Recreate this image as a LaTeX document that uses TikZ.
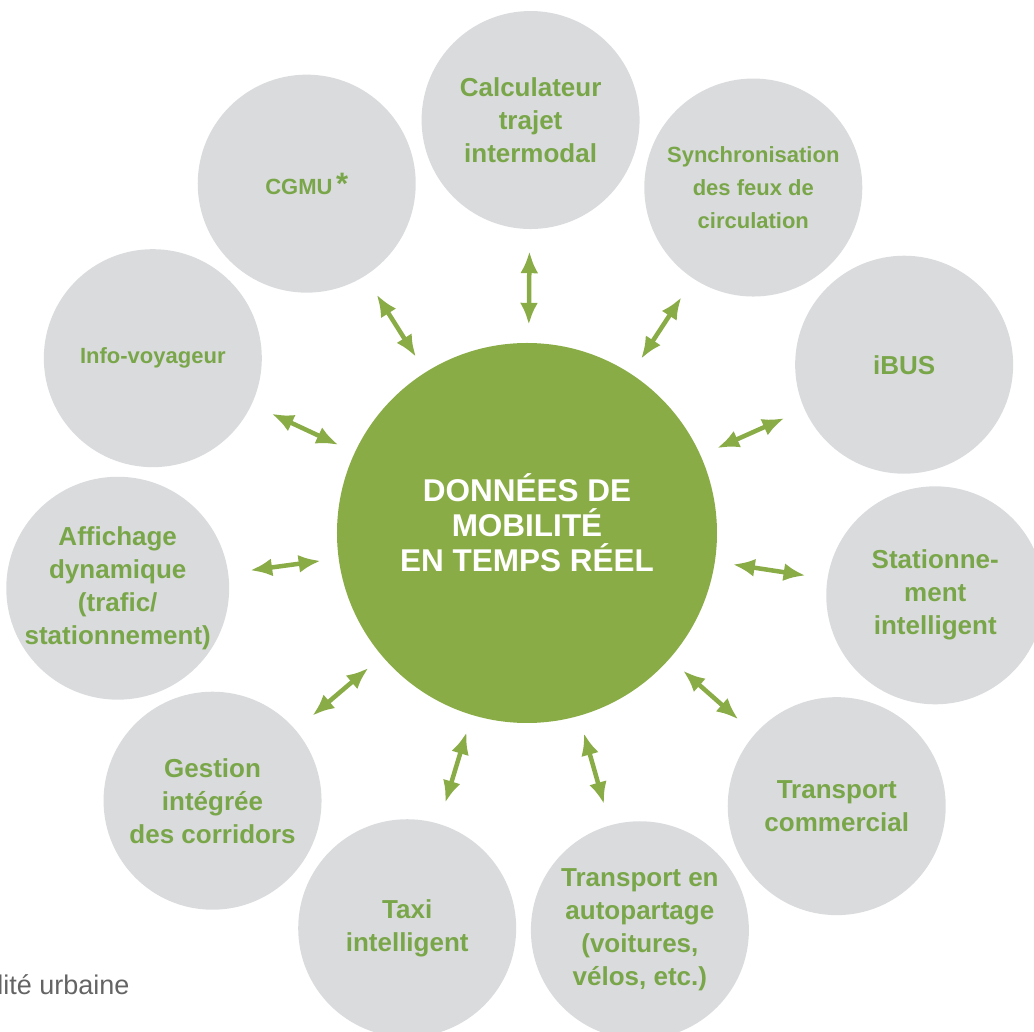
\documentclass[tikz,border=0pt]{standalone}
\usepackage{fontspec}
\setmainfont{Liberation Sans}
\usepackage{xcolor}
\usetikzlibrary{arrows.meta,positioning,calc}
\definecolor{mobgreen}{RGB}{138,172,70}
\definecolor{labelgreen}{RGB}{122,166,74}
\definecolor{discgray}{RGB}{218,219,221}
\definecolor{notegray}{RGB}{100,100,100}
\tikzset{
	disc/.style={circle, fill=discgray, minimum size=218pt, inner sep=0pt,
		align=center, text=labelgreen},
	bigtext/.style={font=\fontsize{26}{33}\selectfont\bfseries},
	smalltext/.style={font=\fontsize{22}{33}\selectfont\bfseries},
	link/.style={{Latex[length=22pt,width=18pt]}-{Latex[length=22pt,width=18pt]},
		line width=4.5pt, draw=mobgreen, shorten <=18pt, shorten >=22pt},
}

\begin{document}
\begin{tikzpicture}[x=1pt, y=1pt,
	hub/.style={circle, fill=mobgreen, minimum size=380pt, inner sep=0pt},
	hubtext/.style={text=white, align=center,
		font=\fontsize{31.5}{35}\selectfont\bfseries},
	]
	
	%% -- Frame
	\clip (-527,-499) rectangle (507,533);
	
	%% -- Central disc
	\node[hub] (core) at (0,0) {};
	\node[hubtext] (coretext) at (0,10) {DONNÉES DE\\MOBILITÉ\\EN TEMPS RÉEL};
	
	%% -- Surrounding services
	\foreach \name/\st/\txt [count=\i from 0] in {
		calc/bigtext/{Calculateur\\trajet\\intermodal},
		sync/smalltext/{Synchronisation\\des feux de\\circulation},
		ibus/bigtext/{iBUS},
		park/bigtext/{Stationne-\\ment\\intelligent},
		comm/bigtext/{Transport\\commercial},
		share/bigtext/{Transport en\\autopartage\\(voitures,\\vélos, etc.)},
		taxi/bigtext/{Taxi\\intelligent},
		corr/bigtext/{Gestion\\intégrée\\des corridors},
		disp/bigtext/{Affichage\\dynamique\\(trafic/\\stationnement)},
		info/smalltext/{Info-voyageur},
		cgmu/smalltext/{CGMU\,{\fontsize{31}{33}\selectfont*}}}
	\node[disc, \st] (\name) at ({89.5-\i*32.727}:413) {\txt};
	
	%% -- Two-way links
	\foreach \name in {calc,sync,ibus,park,comm,share,taxi,corr,disp,info,cgmu}
	\draw[link] (core) -- (\name);
	
	%% -- Cut-off caption
	\node[anchor=base east, text=notegray, font=\fontsize{27}{30}\selectfont]
	(caption) at (-394,-462) {ilité urbaine};
	
\end{tikzpicture}
\end{document}
